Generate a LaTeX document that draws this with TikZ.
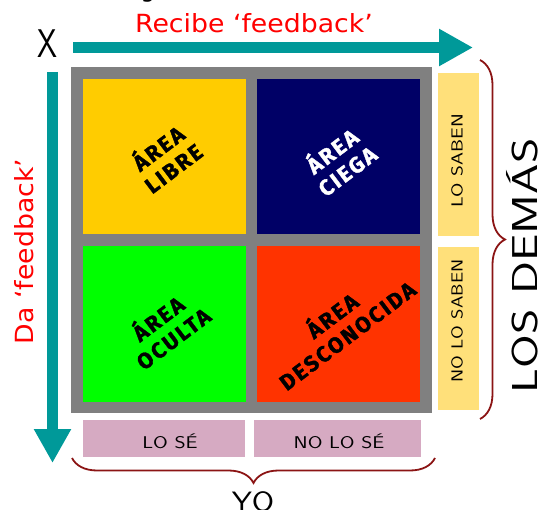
\documentclass[tikz,border=0pt]{standalone}
\usepackage{fontspec}
\usetikzlibrary{arrows.meta,decorations.pathreplacing}
\newfontfamily\axisfont{DejaVu Sans}
\newfontfamily\cellfont{Fira Sans}[LetterSpace=10, BoldFeatures={FakeBold=1.6}]
\definecolor{teal}{RGB}{0,153,153}
\definecolor{framegrey}{RGB}{128,128,128}
\definecolor{libreyellow}{RGB}{255,204,0}
\definecolor{ciegablue}{RGB}{0,0,102}
\definecolor{ocultagreen}{RGB}{0,255,0}
\definecolor{desconred}{RGB}{255,51,0}
\definecolor{tagyellow}{RGB}{255,224,122}
\definecolor{tagpink}{RGB}{214,170,194}
\definecolor{bracered}{RGB}{139,20,20}
\definecolor{axisred}{RGB}{255,0,0}
\tikzset{
  axisarrow/.style={draw=teal, line width=11.5pt,
    -{Triangle[length=34pt,width=35pt]}},
  cell/.style={rectangle, inner sep=0pt, draw=none,
    minimum width=163pt, minimum height=155pt},
  celltext/.style={align=center, rotate=37, inner sep=0pt,
    font=\cellfont\bfseries\fontsize{22}{25}\selectfont},
  sidetag/.style={rectangle, fill=tagyellow, inner sep=0pt,
    minimum width=41pt, minimum height=163pt},
  bottomtag/.style={rectangle, fill=tagpink, inner sep=0pt,
    minimum height=37pt},
  hand/.style={inner sep=0pt, font=\sffamily},
  axislabel/.style={text=axisred, inner sep=0pt,
    font=\axisfont\fontsize{25}{28}\selectfont},
  curly/.style={draw=bracered, line width=1.8pt,
    decorate, decoration={brace, amplitude=25pt}},
}
\begin{document}
\begin{tikzpicture}[x=1pt, y=-1pt]
\useasboundingbox (0,0) rectangle (543,510);

% descender of a heading set above the picture
\node[inner sep=0pt, anchor=base, font=\axisfont\fontsize{23}{26}\selectfont] (headg) at (148,-2) {g};

% axes
\node[hand, anchor=base, font=\sffamily\fontsize{40}{42}\selectfont] (xmark) at (47,58) {\scalebox{0.8}[1]{X}};
\coordinate (hstart) at (73,47.5);
\coordinate (hend) at (473,47.5);
\coordinate (vstart) at (52.5,72);
\coordinate (vend) at (52.5,463);
\draw[axisarrow] (hstart) -- (hend);
\draw[axisarrow] (vstart) -- (vend);
\node[axislabel, anchor=base] (recibe) at (254,33) {\scalebox{1.07}[1]{Recibe ‘feedback’}};
\node[axislabel, anchor=base, rotate=90] (da) at (33,251.5) {\scalebox{1.07}[1]{Da ‘feedback’}};

% window frame and its four areas
\node[rectangle, fill=framegrey, inner sep=0pt, minimum width=361pt, minimum height=346pt] (frame) at (251.5,240) {};
\node[cell, fill=libreyellow] (libre) at (164.5,156.5) {};
\node[cell, fill=ciegablue] (ciega) at (338.5,156.5) {};
\node[cell, fill=ocultagreen, minimum height=156pt] (oculta) at (164.5,324) {};
\node[cell, fill=desconred, minimum height=156pt] (descon) at (338.5,324) {};

\node[celltext] (tlibre) at (libre) {ÁREA\\LIBRE};
\node[celltext, text=white] (tciega) at ([yshift=-3pt]ciega.center) {ÁREA\\CIEGA};
\node[celltext] (toculta) at ([yshift=-3pt]oculta.center) {ÁREA\\OCULTA};
\node[celltext] (tdescon) at (descon) {ÁREA\\DESCONOCIDA};

% side tags
\node[sidetag] (losaben) at (458.5,154.5) {};
\node[sidetag] (nolosaben) at (458.5,328.5) {};
\node[hand, rotate=90, font=\sffamily\fontsize{16}{17}\selectfont] (tlosaben) at (457,161) {\scalebox{1.3}[1]{LO SABEN}};
\node[hand, rotate=90, font=\sffamily\fontsize{16}{17}\selectfont] (tnolosaben) at (457,321) {\scalebox{1.24}[1]{NO LO SABEN}};

% bottom tags
\node[bottomtag, minimum width=162pt] (lose) at (164,438.5) {};
\node[bottomtag, minimum width=167pt] (nolose) at (337.5,438.5) {};
\node[hand, anchor=base, font=\sffamily\fontsize{17}{18}\selectfont] (tlose) at (170,448) {\scalebox{1.25}[1]{LO SÉ}};
\node[hand, anchor=base, font=\sffamily\fontsize{17}{18}\selectfont] (tnolose) at (339,448) {\scalebox{1.25}[1]{NO LO SÉ}};

% braces
\coordinate (bl) at (72,458);
\coordinate (br) at (435,458);
\coordinate (rt) at (480,60);
\coordinate (rb) at (480,419);
\draw[curly, decoration={mirror}] (bl) -- (br);
\draw[curly] (rt) -- (rb);
\node[hand, anchor=base, font=\sffamily\fontsize{28}{30}\selectfont] (yo) at (253,511) {\scalebox{1.15}[1]{YO}};
\node[hand, anchor=base, rotate=90, font=\sffamily\fontsize{36}{38}\selectfont] (demas) at (537,266) {\scalebox{1.35}[1]{LOS DEMÁS}};
\end{tikzpicture}
\end{document}
